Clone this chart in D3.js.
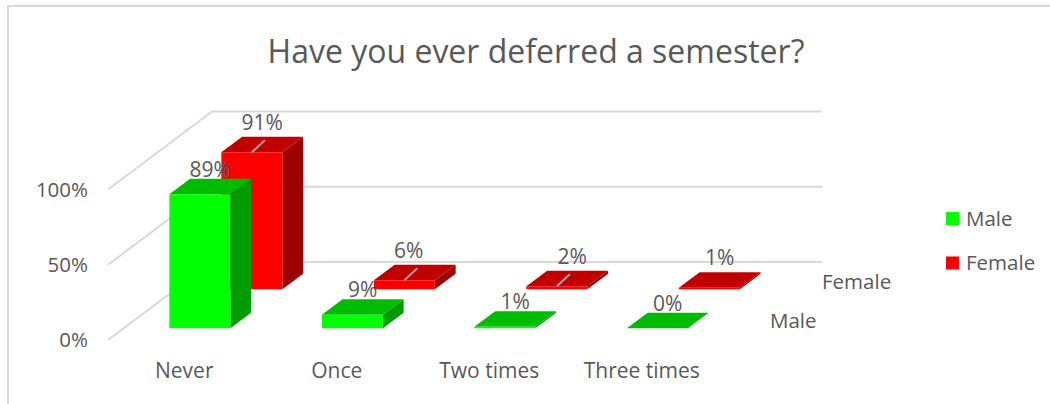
<!DOCTYPE html>
<html>
<head>
<meta charset="utf-8">
<script src="https://cdn.jsdelivr.net/npm/d3@7"></script>
<style>
  html, body { margin: 0; padding: 0; background: #fff; overflow: hidden; }
  text { font-family: "Open Sans", sans-serif; fill: #595959; }
</style>
</head>
<body>
<div id="chart"></div>
<script>
const categories = ["Never", "Once", "Two times", "Three times"]
const seriesNames = ["Male", "Female"]
const maleValues = [89, 9, 1, 0]
const femaleValues = [91, 6, 2, 1]
const yTicks = [0, 50, 100]

const width = 1050
const height = 404

const colors = {
    Male: { front: "#00ff00", top: "#00bc00", side: "#009c00" },
    Female: { front: "#ff0000", top: "#c00000", side: "#9c0000" }
}

const svg = d3.select("#chart").append("svg")
    .attr("width", width)
    .attr("height", height)
    .attr("viewBox", [0, 0, width, height])
    .style("display", "block")

// Front plane of the 3D box, depth goes back and up from there
const floorY = 340
const depthDx = 104
const depthDy = -78

const x = d3.scaleBand().domain(categories).range([108, 718]).paddingInner(0.6).paddingOuter(0.3)
const y = d3.scaleLinear().domain([0, 100]).range([floorY, floorY - 150.5])
const z = d3.scaleBand().domain(seriesNames).range([0, 1]).paddingInner(0.6).paddingOuter(0.3)

// front plane point (px, py) pushed back by depth d (0..1)
const project = (px, py, d) => [px + depthDx * d, py + depthDy * d]
const poly = pts => pts.map(p => p.join(",")).join(" ")

// chart frame
svg.append("path")
    .attr("d", `M8,${height} V6 H${width}`)
    .attr("fill", "none")
    .attr("stroke", "#d9d9d9")
    .attr("stroke-width", 2)

// title
svg.append("text")
    .attr("x", 536)
    .attr("y", 63)
    .attr("text-anchor", "middle")
    .attr("font-size", "32px")
    .text("Have you ever deferred a semester?")

// walls
const grid = svg.append("g")
    .attr("fill", "none")
    .attr("stroke", "#d9d9d9")
    .attr("stroke-width", 2)

grid.selectAll("polyline")
    .data(yTicks)
    .join("polyline")
    .attr("points", d => poly([
        project(x.range()[0], y(d), 0),
        project(x.range()[0], y(d), 1),
        project(x.range()[1], y(d), 1)
    ]))

// y axis labels
svg.selectAll(".y-label")
    .data(yTicks)
    .join("text")
    .attr("class", "y-label")
    .attr("x", 88)
    .attr("y", d => y(d))
    .attr("dy", "0.35em")
    .attr("text-anchor", "end")
    .attr("font-size", "20.5px")
    .text(d => d + "%")

// category labels
svg.selectAll(".x-label")
    .data(categories)
    .join("text")
    .attr("class", "x-label")
    .attr("x", d => x(d) + x.bandwidth() / 2)
    .attr("y", 371)
    .attr("dy", "0.35em")
    .attr("text-anchor", "middle")
    .attr("font-size", "21px")
    .text(d => d)

// series labels on the depth axis
svg.selectAll(".z-label")
    .data(seriesNames)
    .join("text")
    .attr("class", "z-label")
    .attr("x", d => project(x.range()[1], floorY, z(d) + z.bandwidth() / 2)[0] + 26)
    .attr("y", d => project(x.range()[1], floorY, z(d) + z.bandwidth() / 2)[1])
    .attr("dy", "0.35em")
    .attr("font-size", "20.5px")
    .text(d => d)

// back series first so Male sits in front
const rows = [
    { name: "Female", values: femaleValues },
    { name: "Male", values: maleValues }
]

const barData = rows.flatMap(r => r.values.map((v, i) => ({ series: r.name, category: categories[i], value: v })))

const bars = svg.append("g")
    .selectAll("g")
    .data(barData)
    .join("g")

function corners(d) {
    const x0 = x(d.category), x1 = x0 + x.bandwidth()
    const d0 = z(d.series), d1 = d0 + z.bandwidth()
    return {
        fl: project(x0, y(0), d0), fr: project(x1, y(0), d0),
        tl: project(x0, y(d.value), d0), tr: project(x1, y(d.value), d0),
        bl: project(x0, y(d.value), d1), br: project(x1, y(d.value), d1),
        sb: project(x1, y(0), d1)
    }
}

bars.append("polygon")
    .attr("points", d => { const c = corners(d); return poly([c.fr, c.tr, c.br, c.sb]) })
    .attr("fill", d => colors[d.series].side)
bars.append("polygon")
    .attr("points", d => { const c = corners(d); return poly([c.tl, c.tr, c.br, c.bl]) })
    .attr("fill", d => colors[d.series].top)
bars.append("polygon")
    .attr("points", d => { const c = corners(d); return poly([c.fl, c.fr, c.tr, c.tl]) })
    .attr("fill", d => colors[d.series].front)

// leader lines, only the female labels that were moved have one
const withLeader = barData.filter(d => d.series === "Female" && d.category !== "Three times")

svg.selectAll(".leader")
    .data(withLeader)
    .join("line")
    .attr("class", "leader")
    .attr("x1", d => x(d.category) + x.bandwidth() / 2 + depthDx * z(d.series))
    .attr("y1", d => y(d.value) + depthDy * z(d.series))
    .attr("x2", d => x(d.category) + x.bandwidth() / 2 + depthDx * z(d.series) + 13)
    .attr("y2", d => y(d.value) + depthDy * z(d.series) - 12)
    .attr("stroke", "#a6a6a6")
    .attr("stroke-width", 2)

// labels sit above the middle of the bar top
const labelNudge = { "Female|Once": -6, "Female|Two times": 5 }

svg.selectAll(".value-label")
    .data(barData)
    .join("text")
    .attr("class", "value-label")
    .attr("x", d => {
        const c = corners(d)
        return (c.tl[0] + c.br[0]) / 2 + (labelNudge[d.series + "|" + d.category] || 0)
    })
    .attr("y", d => {
        const c = corners(d)
        return (c.tl[1] + c.br[1]) / 2 - (d.series === "Male" ? 17 : 22)
    })
    .attr("dy", "0.35em")
    .attr("text-anchor", "middle")
    .attr("font-size", "21px")
    .text(d => d.value + "%")

// legend
const legend = svg.append("g")
    .selectAll("g")
    .data(seriesNames)
    .join("g")
    .attr("transform", (d, i) => `translate(946,${212 + i * 44.5})`)

legend.append("rect")
    .attr("width", 13)
    .attr("height", 13)
    .attr("fill", d => colors[d].front)

legend.append("text")
    .attr("x", 20)
    .attr("y", 6.5)
    .attr("dy", "0.35em")
    .attr("font-size", "20.5px")
    .text(d => d)
</script>
</body>
</html>
